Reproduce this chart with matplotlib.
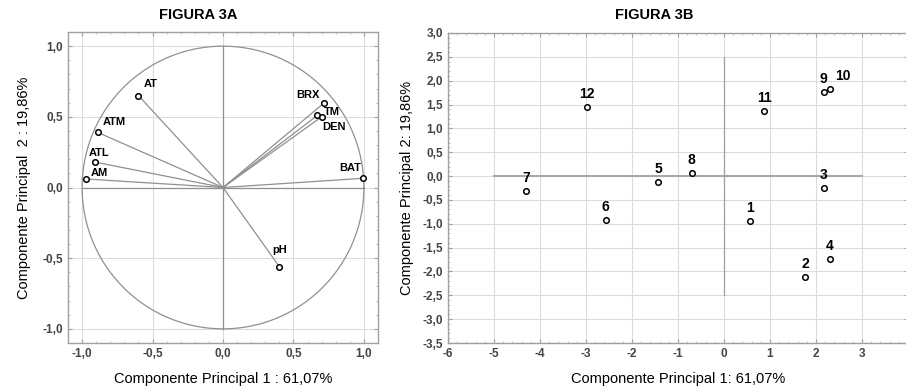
import matplotlib.pyplot as plt
import numpy as np

plt.rcParams['font.family'] = ['Liberation Sans', 'DejaVu Sans']

# FIGURA 3A - loadings
var_names = ['AT', 'ATM', 'ATL', 'AM', 'BRX', 'TM', 'DEN', 'BAT', 'pH']
var_pc1 = [-0.60, -0.89, -0.91, -0.97, 0.72, 0.67, 0.70, 0.995, 0.40]
var_pc2 = [0.65, 0.39, 0.18, 0.06, 0.60, 0.51, 0.50, 0.065, -0.56]
# label offsets in pixels (dx, dy, ha)
var_lab = [(5, 7, 'left'), (5, 5, 'left'), (-6, 4, 'left'), (4, 1, 'left'),
           (-5, 3, 'right'), (6, -2, 'left'), (1, -15, 'left'), (-2, 5, 'right'),
           (0, 12, 'center')]

# FIGURA 3B - scores
samples = ['1', '2', '3', '4', '5', '6', '7', '8', '9', '10', '11', '12']
score_pc1 = [0.57, 1.76, 2.17, 2.30, -1.43, -2.57, -4.30, -0.70, 2.17, 2.30, 0.87, -2.98]
score_pc2 = [-0.95, -2.12, -0.26, -1.74, -0.12, -0.93, -0.31, 0.06, 1.77, 1.82, 1.36, 1.45]

xticks_a = [-1.0, -0.5, 0.0, 0.5, 1.0]
yticks_a = [-1.0, -0.5, 0.0, 0.5, 1.0]
xticks_b = [-6, -5, -4, -3, -2, -1, 0, 1, 2, 3]
yticks_b = [-3.5, -3.0, -2.5, -2.0, -1.5, -1.0, -0.5, 0.0, 0.5, 1.0, 1.5, 2.0, 2.5, 3.0]

W, H = 906, 391
fig = plt.figure(figsize=(W / 100, H / 100), dpi=100)
axA = fig.add_axes([68 / W, 1 - 343 / H, 310 / W, 311 / H])
axB = fig.add_axes([448 / W, 1 - 343 / H, 460 / W, 310 / H])

def fmt(v, nd=1):
    return f'{v:.{nd}f}'.replace('.', ',')

def style(ax):
    for s in ax.spines.values():
        s.set_color('#a0a0a0')
        s.set_linewidth(1.0)
    ax.grid(True, color='#dcdcdc', linewidth=0.8)
    ax.set_axisbelow(True)
    ax.minorticks_on()
    ax.tick_params(which='major', direction='in', length=3, color='#a0a0a0',
                   labelsize=8.5, labelcolor='#444444', top=True, right=True)
    ax.tick_params(which='minor', direction='in', length=1.5, color='#b0b0b0',
                   top=True, right=True)
    for lab in ax.get_xticklabels() + ax.get_yticklabels():
        lab.set_fontweight('bold')

# ---- panel A
t = np.linspace(0, 2 * np.pi, 400)
axA.plot(np.cos(t), np.sin(t), color='#909090', lw=0.9)
axA.plot([-1, 1], [0, 0], color='#909090', lw=0.9)
axA.plot([0, 0], [-1, 1], color='#909090', lw=0.9)
for x, y in zip(var_pc1, var_pc2):
    axA.plot([0, x], [0, y], color='#909090', lw=0.9)
axA.plot(var_pc1, var_pc2, 'o', ms=4, mfc='white', mec='black', mew=1.1)
for name, x, y, (dx, dy, ha) in zip(var_names, var_pc1, var_pc2, var_lab):
    axA.annotate(name, (x, y), xytext=(dx * 0.72, dy * 0.72), textcoords='offset points',
                 ha=ha, va='bottom', fontsize=8, fontweight='bold')
axA.set_xlim(-1.1, 1.1)
axA.set_ylim(-1.1, 1.1)
axA.set_xticks(xticks_a)
axA.set_yticks(yticks_a)
axA.set_xticklabels([fmt(v) for v in xticks_a])
axA.set_yticklabels([fmt(v) for v in yticks_a])
style(axA)
axA.set_xlabel('Componente Principal 1 : 61,07%', fontsize=10.5, labelpad=9)
axA.set_ylabel('Componente Principal  2 : 19,86%', fontsize=10.5, labelpad=8)

# ---- panel B
axB.plot([-5, 3], [0, 0], color='#a8a8a8', lw=1.5)
axB.plot([0, 0], [-2.5, 2.5], color='#a0a0a0', lw=0.9)
axB.plot(score_pc1, score_pc2, 'o', ms=4, mfc='white', mec='black', mew=1.1)
for name, x, y in zip(samples, score_pc1, score_pc2):
    if name == '10':
        axB.annotate(name, (x, y), xytext=(13 * 0.72, 6 * 0.72), textcoords='offset points',
                     ha='center', va='bottom', fontsize=10, fontweight='bold')
    else:
        axB.annotate(name, (x, y), xytext=(0, 6 * 0.72), textcoords='offset points',
                     ha='center', va='bottom', fontsize=10, fontweight='bold')
axB.set_xlim(-6, 4)
axB.set_ylim(-3.5, 3.0)
axB.set_xticks(xticks_b)
axB.set_yticks(yticks_b)
axB.set_xticklabels([str(v) for v in xticks_b])
axB.set_yticklabels([fmt(v) for v in yticks_b])
style(axB)
axB.set_xlabel('Componente Principal 1: 61,07%', fontsize=10.5, labelpad=9)
axB.set_ylabel('Componente Principal 2: 19,86%', fontsize=10.5, labelpad=6)

fig.text(198 / W, 1 - 15 / H, 'FIGURA 3A', ha='center', va='center', fontsize=10.5, fontweight='bold')
fig.text(654 / W, 1 - 15 / H, 'FIGURA 3B', ha='center', va='center', fontsize=10.5, fontweight='bold')

fig.savefig('out.png', dpi=100)
